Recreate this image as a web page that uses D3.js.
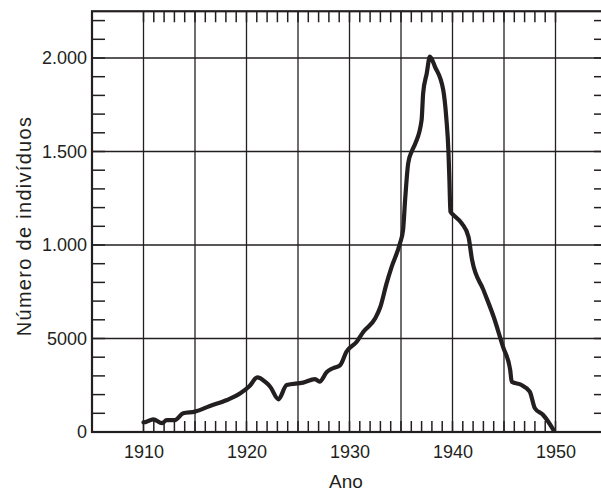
<!DOCTYPE html>
<html>
<head>
<meta charset="utf-8">
<script src="https://cdn.jsdelivr.net/npm/d3@7"></script>
<style>
  body { margin: 0; background: #fff; }
  text { font-family: "Liberation Sans", Arial, sans-serif; fill: #231f20; }
</style>
</head>
<body>
<div id="chart"></div>
<script>
'use strict'

// data
let years = [1910.0, 1910.2, 1910.95, 1911.8, 1912.25, 1913.05, 1913.85, 1915.0, 1916.45, 1918.1,
  1919.4, 1920.3, 1921.05, 1921.8, 1922.3, 1923.1, 1923.9, 1925.5, 1926.65, 1927.1,
  1927.8, 1928.4, 1929.1, 1929.7, 1930.7, 1931.35, 1932.5, 1933.0, 1933.6, 1934.1,
  1934.9, 1935.2, 1935.4, 1935.7, 1936.1, 1936.4, 1937.0, 1937.15, 1937.5, 1937.8,
  1938.3, 1939.1, 1939.4, 1939.6, 1939.7, 1939.8, 1940.1, 1940.9, 1941.55, 1941.9,
  1943.0, 1944.1, 1944.6, 1944.9, 1945.6, 1945.75, 1946.7, 1947.5, 1948.0, 1948.8, 1949.3, 1949.8]
let counts = [52, 53, 68, 47, 64, 64, 100, 109, 139, 171,
  207, 246, 292, 269, 242, 175, 251, 264, 283, 269,
  321, 341, 358, 429, 483, 536, 608, 670, 795, 884,
  1009, 1080, 1241, 1437, 1508, 1544, 1668, 1811, 1918, 2007,
  1953, 1829, 1678, 1508, 1348, 1178, 1160, 1116, 1044, 920,
  760, 599, 510, 456, 332, 269, 251, 216, 127, 91, 55, 11]

let xTicks = [1910, 1920, 1930, 1940, 1950]
let yTicks = [0, 500, 1000, 1500, 2000]
let yTickLabels = ["0", "5000", "1.000", "1.500", "2.000"]

let xTitle = "Ano"
let yTitle = "Número de indivíduos"

let width = 601
let height = 494
let ink = "#231f20"

let svg = d3.select("#chart").append("svg")
  .attr("width", width)
  .attr("height", height)

let x = d3.scaleLinear().domain([1905, 1955]).range([92, 607])
let y = d3.scaleLinear().domain([0, 2250]).range([432, 11.25])

let pLeft = x.range()[0], pRight = x.range()[1]
let pBottom = y.range()[0], pTop = y.range()[1]

// grid every 5 years / every 500
let grid = svg.append("g").attr("stroke", ink).attr("stroke-width", 1.3)
grid.selectAll(".vg")
  .data(d3.range(1910, 1955, 5))
  .enter().append("line")
  .attr("x1", d => x(d)).attr("x2", d => x(d))
  .attr("y1", pTop).attr("y2", pBottom)
grid.selectAll(".hg")
  .data(d3.range(500, 2250, 500))
  .enter().append("line")
  .attr("x1", pLeft).attr("x2", pRight)
  .attr("y1", d => y(d)).attr("y2", d => y(d))

// minor ticks, inward
let minor = svg.append("g").attr("stroke", ink).attr("stroke-width", 1.5)
let yearTicks = d3.range(1910, 1951, 1)
minor.selectAll(".tt")
  .data(yearTicks)
  .enter().append("line")
  .attr("x1", d => x(d)).attr("x2", d => x(d))
  .attr("y1", pTop).attr("y2", pTop + 11)
minor.selectAll(".bt")
  .data(yearTicks)
  .enter().append("line")
  .attr("x1", d => x(d)).attr("x2", d => x(d))
  .attr("y1", pBottom).attr("y2", pBottom - 11)
let countTicks = d3.range(100, 2250, 100)
minor.selectAll(".lt")
  .data(countTicks)
  .enter().append("line")
  .attr("x1", pLeft).attr("x2", pLeft + 13)
  .attr("y1", d => y(d)).attr("y2", d => y(d))
minor.selectAll(".rt")
  .data(countTicks)
  .enter().append("line")
  .attr("x1", pRight).attr("x2", pRight - 13)
  .attr("y1", d => y(d)).attr("y2", d => y(d))

// frame
svg.append("rect")
  .attr("x", pLeft).attr("y", pTop)
  .attr("width", pRight - pLeft).attr("height", pBottom - pTop)
  .attr("fill", "none")
  .attr("stroke", ink)
  .attr("stroke-width", 2.2)

// tick labels
let x_axis = d3.axisBottom(x).tickValues(xTicks).tickSize(0).tickPadding(13).tickFormat(d3.format("d"))
let gx = svg.append("g").attr("transform", "translate(0," + pBottom + ")").call(x_axis)
gx.select(".domain").remove()
gx.selectAll("text").style("font-size", "18px").attr("fill", ink)

let y_axis = d3.axisLeft(y).tickValues(yTicks).tickSize(0).tickPadding(5)
  .tickFormat((d, i) => yTickLabels[i])
let gy = svg.append("g").attr("transform", "translate(" + pLeft + ",0)").call(y_axis)
gy.select(".domain").remove()
gy.selectAll("text").style("font-size", "18px").attr("fill", ink)

// axis titles
svg.append("text")
  .attr("x", 346).attr("y", 488)
  .attr("text-anchor", "middle")
  .style("font-size", "19px")
  .text(xTitle)

svg.append("text")
  .attr("text-anchor", "middle")
  .attr("transform", "translate(31,226)rotate(-90)")
  .style("font-size", "20px")
  .style("letter-spacing", "1.3px")
  .text(yTitle)

// population curve
let pts = years.map((d, i) => [d, counts[i]])
let line = d3.line()
  .x(d => x(d[0]))
  .y(d => y(d[1]))
  .curve(d3.curveMonotoneX)

svg.append("path")
  .datum(pts)
  .attr("fill", "none")
  .attr("stroke", ink)
  .attr("stroke-width", 4.2)
  .attr("stroke-linejoin", "round")
  .attr("stroke-linecap", "round")
  .attr("d", line)
</script>
</body>
</html>
